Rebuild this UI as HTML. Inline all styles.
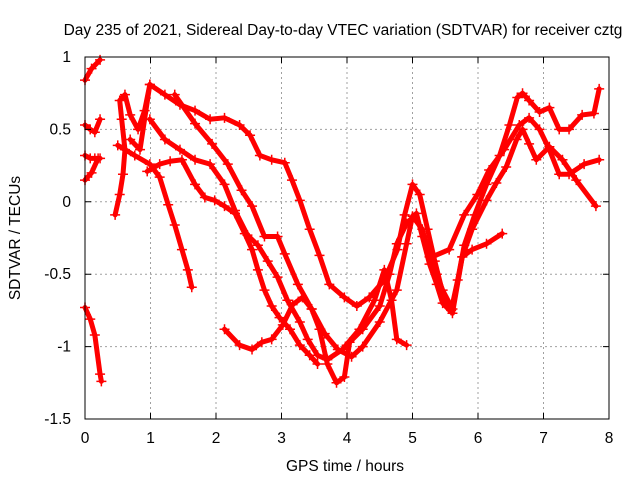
<!DOCTYPE html>
<html><head><meta charset="utf-8"><style>
body{margin:0;background:#fff;}
svg text{font-family:"Liberation Sans",sans-serif;font-size:15.5px;fill:#000;}
</style></head><body>
<svg id="chart" width="640" height="480" xmlns="http://www.w3.org/2000/svg">
<rect width="640" height="480" fill="#fff"/>
<g id="grid"></g>
<g id="series"></g>
<rect x="85" y="57" width="524" height="362" fill="none" stroke="#000" stroke-width="1"/>
<g id="ticks"></g>
<text x="343" y="35" text-anchor="middle">Day 235 of 2021, Sidereal Day-to-day VTEC variation (SDTVAR) for receiver cztg</text>
<text x="345" y="471" text-anchor="middle">GPS time / hours</text>
<text x="20" y="238" text-anchor="middle" transform="rotate(-90 20 238)">SDTVAR / TECUs</text>
</svg>
<script>
const xTicks=[0,1,2,3,4,5,6,7,8];
const yTicks=[1,0.5,0,-0.5,-1,-1.5];
const yTickLabels=["1","0.5","0","-0.5","-1","-1.5"];
const s1t=[0,0.1,0.23],s1v=[0.84,0.92,0.98];
const s2t=[0,0.08,0.15,0.23],s2v=[0.53,0.5,0.48,0.57];
const s3t=[0,0.08,0.15,0.23],s3v=[0.32,0.3,0.3,0.3];
const s4t=[0,0.08,0.15,0.23,0.25],s4v=[-0.73,-0.81,-0.92,-1.19,-1.24];
const s5t=[0,0.1,0.2],s5v=[0.15,0.2,0.3];
const aT=[0.99,1.22,1.45,1.68,1.91,2.13,2.36,2.52,2.67,2.85,3.05,3.16,3.28,3.43,3.58,3.73,3.96,4.15,4.34,4.57,4.77,4.88,5.0,5.11,5.23,5.34,5.49,5.59,5.69,5.79,5.95,6.13,6.33,6.48,6.6,6.68,6.78,6.94,7.09,7.24,7.39,7.59,7.77,7.85];
const aV=[0.81,0.74,0.67,0.63,0.57,0.58,0.53,0.46,0.32,0.29,0.27,0.15,0.01,-0.19,-0.37,-0.57,-0.66,-0.72,-0.66,-0.54,-0.33,-0.09,0.12,0.05,-0.19,-0.41,-0.68,-0.75,-0.54,-0.3,-0.09,0.12,0.32,0.53,0.72,0.75,0.7,0.62,0.65,0.5,0.5,0.6,0.61,0.78];
const bT=[1.37,1.68,1.94,2.18,2.39,2.55,2.74,2.94,3.05,3.25,3.46,3.66,3.86,4.07,4.24,4.5,4.76,4.91,5.0,5.15,5.26,5.37,5.46,5.61,5.76,5.91,6.13,6.28,6.43,6.59,6.68,6.78,6.89,7.09,7.29,7.5,7.8];
const bV=[0.74,0.54,0.4,0.26,0.08,-0.03,-0.24,-0.24,-0.36,-0.57,-0.74,-0.91,-1.02,-1.07,-1.0,-0.83,-0.61,-0.29,-0.1,-0.19,-0.38,-0.5,-0.61,-0.74,-0.38,-0.19,0.01,0.13,0.24,0.43,0.5,0.4,0.29,0.38,0.29,0.15,-0.03];
const eT=[2.13,2.36,2.55,2.7,2.85,3.02,3.17,3.32,3.46,3.58,3.7,3.84,3.96,4.04,4.24,4.5,4.65,4.76,4.91,5.06,5.15,5.26,5.37,5.46,5.61,5.76,5.91,6.13,6.37];
const eV=[-0.88,-0.99,-1.02,-0.97,-0.95,-0.85,-0.71,-0.66,-0.74,-0.88,-1.12,-1.25,-1.21,-0.97,-0.88,-0.72,-0.5,-0.29,-0.15,-0.08,-0.24,-0.43,-0.57,-0.7,-0.77,-0.38,-0.33,-0.29,-0.22];
const cT=[0.99,1.22,1.45,1.68,1.91,2.13,2.29,2.48,2.64,2.79,2.94,3.09,3.28,3.4,3.55,3.7,3.93,4.19,4.42,4.57,4.68,4.76,4.91];
const cV=[0.57,0.43,0.36,0.29,0.26,0.12,-0.06,-0.23,-0.3,-0.41,-0.52,-0.68,-0.83,-0.95,-1.06,-1.09,-1.02,-0.88,-0.68,-0.47,-0.68,-0.95,-0.99];
const fT=[0.5,0.76,0.99,1.14,1.27,1.37,1.48,1.57,1.63];
const fV=[0.39,0.32,0.26,0.17,-0.02,-0.16,-0.33,-0.47,-0.59];
const dT=[0.95,1.14,1.3,1.48,1.68,1.83,1.98,2.13,2.29,2.44,2.55,2.64,2.74,2.85,2.97,3.13,3.28,3.43,3.55];
const dV=[0.21,0.26,0.28,0.29,0.12,0.03,0.01,-0.03,-0.08,-0.22,-0.33,-0.47,-0.61,-0.72,-0.8,-0.88,-0.99,-1.06,-1.12];
const hT=[5.3,5.56,5.79,5.99,6.17,6.4,6.63,6.78,6.94,7.09,7.24,7.39,7.62,7.85];
const hV=[-0.38,-0.33,-0.09,0.05,0.22,0.36,0.53,0.58,0.5,0.36,0.19,0.19,0.26,0.29];
const gT=[0.46,0.53,0.58,0.61,0.56,0.53,0.61,0.69,0.81,0.91,0.99,0.84,0.69];
const gV=[-0.09,0.05,0.19,0.36,0.57,0.7,0.74,0.6,0.5,0.63,0.81,0.36,0.43];
const seriesList=[[s1t,s1v],[s2t,s2v],[s3t,s3v],[s4t,s4v],[s5t,s5v],[aT,aV],[bT,bV],[eT,eV],[cT,cV],[fT,fV],[dT,dV],[hT,hV],[gT,gV]];
const NS="http://www.w3.org/2000/svg";
const X=t=>85+t*(524/8);
const Y=v=>57+(1-v)*(362/2.5);
function mk(tag,attrs,parent){const e=document.createElementNS(NS,tag);for(const k in attrs)e.setAttribute(k,attrs[k]);parent.appendChild(e);return e;}
const grid=document.getElementById('grid'),ticks=document.getElementById('ticks'),ser=document.getElementById('series');
xTicks.forEach(t=>{
 if(t>0&&t<8){const l=mk('line',{x1:X(t),x2:X(t),y1:57,y2:419,stroke:'#a0a0a0','stroke-dasharray':'2,3'},grid);
 
 }
 const tk=mk('path',{d:`M${X(t)},419v-6M${X(t)},57v6`,stroke:'#000'},ticks);
 
 
 const tx=mk('text',{x:X(t),y:443,'text-anchor':'middle'},ticks);tx.textContent=String(t);
 
 
});
yTicks.forEach((v,i)=>{
 if(v<1&&v>-1.5){const l=mk('line',{x1:85,x2:609,y1:Y(v),y2:Y(v),stroke:'#a0a0a0','stroke-dasharray':'2,3'},grid);
 
 }
 const tk=mk('path',{d:`M85,${Y(v)}h6M609,${Y(v)}h-6`,stroke:'#000'},ticks);
 
 
 const tx=mk('text',{x:71,y:Y(v)+5,'text-anchor':'end'},ticks);tx.textContent=yTickLabels[i];
 
 
});
seriesList.forEach(([ts,vs])=>{
 const pts=ts.map((t,i)=>X(t)+','+Y(vs[i])).join(' ');
 const pl=mk('polyline',{points:pts,fill:'none',stroke:'#f00','stroke-width':5,'stroke-linejoin':'round','stroke-linecap':'round'},ser);
 
 
 ts.forEach((t,i)=>{const x=X(t),y=Y(vs[i]);
  const m=mk('path',{d:`M${x-5},${y}h10M${x},${y-5}v10`,stroke:'#f00','stroke-width':1.5},ser);
  
  });
});
</script>
</body></html>
